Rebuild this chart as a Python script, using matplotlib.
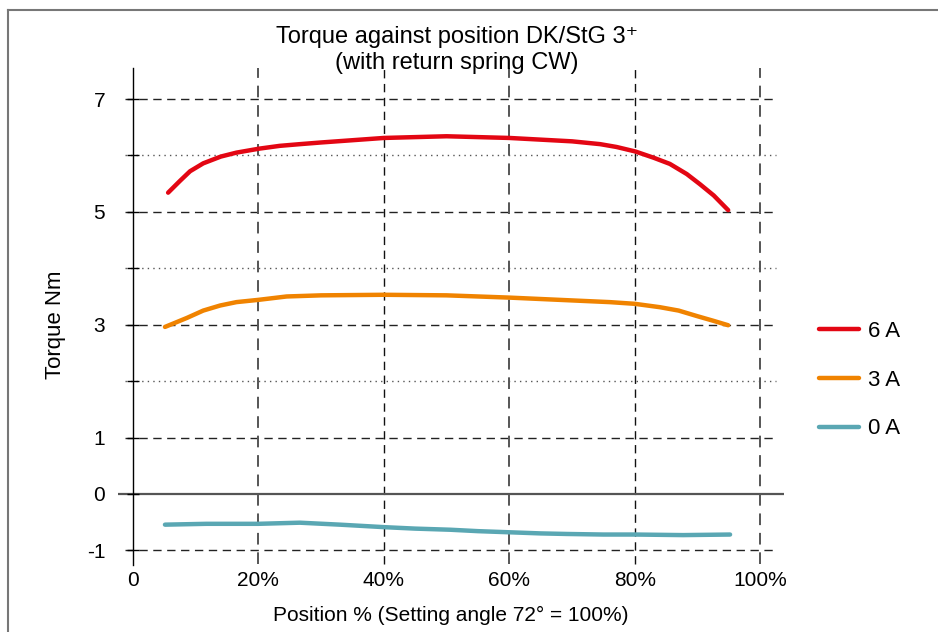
import matplotlib
matplotlib.use("Agg")
import matplotlib.pyplot as plt
from matplotlib.lines import Line2D

plt.rcParams['font.family'] = ['Liberation Sans', 'DejaVu Sans']

# ---- data ----
pos_6a = [5.6, 7.5, 9.1, 11.2, 14.0, 16.5, 20.1, 23.4, 26.6, 30.0, 40.0, 50.0,
          60.0, 65.0, 70.0, 74.5, 77.1, 80.1, 83.0, 85.6, 88.3, 90.4, 92.6, 94.9]
torque_6a = [5.34, 5.55, 5.72, 5.86, 5.98, 6.05, 6.12, 6.17, 6.20, 6.23, 6.31, 6.34,
             6.31, 6.28, 6.25, 6.20, 6.15, 6.07, 5.96, 5.85, 5.67, 5.49, 5.29, 5.03]

pos_3a = [5.1, 8.6, 11.2, 13.9, 16.5, 20.0, 24.5, 30.0, 40.0, 50.0, 60.0, 70.0,
          76.0, 80.0, 84.0, 87.0, 90.0, 92.5, 94.9]
torque_3a = [2.96, 3.12, 3.25, 3.34, 3.40, 3.44, 3.50, 3.52, 3.53, 3.52, 3.48, 3.43,
             3.40, 3.37, 3.31, 3.25, 3.15, 3.07, 2.99]

pos_0a = [5.1, 11.7, 20.0, 26.6, 33.0, 40.2, 45.0, 50.6, 55.0, 60.0, 65.0, 69.2,
          75.0, 80.0, 87.7, 95.2]
torque_0a = [-0.545, -0.53, -0.53, -0.51, -0.545, -0.59, -0.615, -0.635, -0.66, -0.68,
             -0.70, -0.71, -0.72, -0.72, -0.73, -0.72]

series_labels = ['6 A', '3 A', '0 A']
series_colors = ['#e30613', '#f08300', '#5aa7b3']

x_ticks = [0, 20, 40, 60, 80, 100]
x_ticklabels = ['0', '20%', '40%', '60%', '80%', '100%']
y_ticks = [7, 5, 3, 1, 0, -1]
y_ticklabels = ['7', '5', '3', '1', '0', '-1']
y_minor = [6, 4, 2]

title = 'Torque against position DK/StG 3\u207a\n(with return spring CW)'
xlabel = 'Position % (Setting angle 72° = 100%)'
ylabel = 'Torque Nm'

W, H = 938, 632
fig = plt.figure(figsize=(W / 100, H / 100), dpi=100)
ax = fig.add_axes([118 / W, 1 - 565 / H, (784 - 118) / W, (565 - 68) / H])
ax.set_xlim(-2.39, 103.8)
ax.set_ylim(-1.26, 7.55)

for s in ['top', 'right', 'bottom']:
    ax.spines[s].set_visible(False)
ax.spines['left'].set_position(('data', 0))
ax.spines['left'].set_color('black')
ax.spines['left'].set_linewidth(1.0)

dash = (0, (6, 4))
for yv in [7, 5, 3, 1, -1]:
    ax.plot([-1.3, 102.6], [yv, yv], color='#222222', lw=1.0, ls=dash, zorder=1)
for yv in y_minor:
    ax.plot([-1.3, 102.6], [yv, yv], color='#555555', lw=1.0, ls=(0, (1, 3)), zorder=1)
for i, xv in enumerate(x_ticks[1:]):
    ax.plot([xv, xv], [-1.24, 7.55], color='#555555' if i % 2 == 0 else '#111111',
            lw=1.4 if i % 2 == 0 else 1.0, ls=(0, (6, 4)), zorder=1)
ax.axhline(0, color='#555555', lw=1.6, zorder=1)

lines = []
for px, ty, lab, col in zip([pos_6a, pos_3a, pos_0a], [torque_6a, torque_3a, torque_0a],
                            series_labels, series_colors):
    ln, = ax.plot(px, ty, color=col, lw=3.2, solid_capstyle='round',
                  solid_joinstyle='round', label=lab, zorder=3)
    lines.append(ln)

ax.set_yticks(y_ticks)
ax.set_yticklabels(y_ticklabels)
ax.set_yticks(y_minor, minor=True)
ax.tick_params(axis='y', which='both', direction='inout', length=8, width=1.0,
               color='black', pad=16, labelsize=15)
ax.set_xticks(x_ticks)
ax.set_xticklabels(x_ticklabels)
ax.tick_params(axis='x', length=0, pad=4, labelsize=15)

fig.text(457 / W, 1 - 50 / H, title, ha='center', va='center', fontsize=17,
         linespacing=1.2)
ax.set_xlabel(xlabel, fontsize=15, labelpad=12)
ax.set_ylabel(ylabel, fontsize=16)
ax.yaxis.set_label_coords((66 - 118) / 666, (565 - 325) / 497)

fig.legend(handles=lines, labels=series_labels, loc='center left',
           bbox_to_anchor=(808 / W, 1 - 380 / H), frameon=False, fontsize=16,
           handlelength=1.8, handletextpad=0.4, labelspacing=1.25, borderpad=0)

fig.add_artist(Line2D([8 / W, 1.0], [1 - 10 / H, 1 - 10 / H], color='#777777', lw=1.5))
fig.add_artist(Line2D([8 / W, 8 / W], [0, 1 - 10 / H], color='#777777', lw=1.5))

fig.savefig('out.png', dpi=100)
